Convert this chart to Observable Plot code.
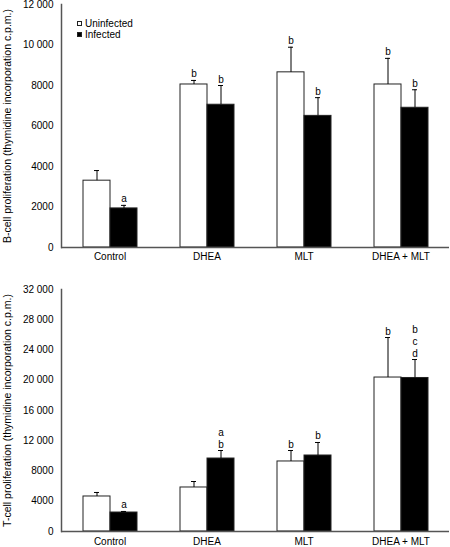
<!DOCTYPE html>
<html>
<head>
<meta charset="utf-8">
<script src="https://cdn.jsdelivr.net/npm/d3@7"></script>
<script src="https://cdn.jsdelivr.net/npm/@observablehq/plot@0.6"></script>
<style>
  body { margin: 0; background: #fff; font-family: "Liberation Sans", Arial, sans-serif; }
  #wrap { position: relative; width: 450px; }
  #wrap svg { display: block; overflow: visible; }
  .legend { position: absolute; left: 77px; top: 18px; font-size: 10px; line-height: 11px; color: #000; }
  .legend div { display: flex; align-items: center; white-space: nowrap; }
  .sw { display: inline-block; width: 5px; height: 5px; margin-right: 3px; box-sizing: border-box; border: 1px solid #222; }
</style>
</head>
<body>
<div id="wrap"></div>
<script>
const categories = ["Control", "DHEA", "MLT", "DHEA + MLT"];
const series = ["Uninfected", "Infected"];

// B-cell proliferation (c.p.m.)
const bUninfected = [3300, 8050, 8650, 8050];
const bInfected = [1930, 7050, 6500, 6900];
const bUninfectedSE = [500, 200, 1240, 1290];
const bInfectedSE = [150, 950, 900, 890];
const bUninfectedLabels = ["", "b", "b", "b"];
const bInfectedLabels = ["a", "b", "b", "b"];
const bTicks = [0, 2000, 4000, 6000, 8000, 10000, 12000];

// T-cell proliferation (c.p.m.)
const tUninfected = [4630, 5820, 9260, 20360];
const tInfected = [2510, 9650, 10050, 20300];
const tUninfectedSE = [530, 790, 1450, 5290];
const tInfectedSE = [140, 1060, 1720, 2440];
const tUninfectedLabels = ["", "", "b", "b"];
const tInfectedLabels = ["a", "a\nb", "b", "b\nc\nd"];
const tTicks = [0, 4000, 8000, 12000, 16000, 20000, 24000, 28000, 32000];

const fmt = d => d >= 10000 ? d3.format(",")(d).replace(",", " ") : String(d);

function table(means, ses, labels) {
  const rows = [];
  categories.forEach((c, i) => series.forEach((s, j) => rows.push({
    category: c, series: s, value: means[j][i], top: means[j][i] + ses[j][i], label: labels[j][i]
  })));
  return rows;
}

function panel({data, ticks, yLabel, height, marginTop, marginBottom, fxPad}) {
  return Plot.plot({
    width: 450, height, marginLeft: 60, marginRight: 0, marginTop, marginBottom,
    style: {fontFamily: '"Liberation Sans", Arial, sans-serif', fontSize: "10px", background: "white", color: "black", overflow: "visible"},
    fx: {domain: categories, padding: 0, label: null, axis: null},
    x: {domain: series, paddingInner: 0, paddingOuter: 0.77, axis: null},
    y: {domain: [ticks[0], ticks[ticks.length - 1]], axis: null},
    color: {domain: series, range: ["white", "black"]},
    marks: [
      Plot.barY(data, {fx: "category", x: "series", y: "value", fill: "series", stroke: "#222", strokeWidth: 1}),
      Plot.ruleX(data, {fx: "category", x: "series", y1: "value", y2: "top", stroke: "black", strokeWidth: 1}),
      Plot.tickY(data, {fx: "category", x: "series", y: "top", insetLeft: 11, insetRight: 11, stroke: "black", strokeWidth: 1}),
      Plot.text(data, {fx: "category", x: "series", y: "top", text: "label", lineAnchor: "bottom", dy: -3, lineHeight: 1.2, fontSize: 10}),
      Plot.ruleY([0], {stroke: "#555", strokeWidth: 1.5}),
      Plot.axisY({ticks, tickFormat: fmt, tickSize: 0, tickPadding: 8, label: null, fontSize: 10}),
      Plot.axisY({ticks: [], label: yLabel, labelAnchor: "center", labelArrow: "none", labelOffset: 58, fontSize: 10.5}),
      Plot.axisFx({anchor: "bottom", tickSize: 0, tickPadding: fxPad, label: null, fontSize: 10}),
      Plot.frame({anchor: "left", facetAnchor: "left", stroke: "#555", strokeWidth: 1.5})
    ]
  });
}

const wrap = document.getElementById("wrap");
wrap.append(panel({
  data: table([bUninfected, bInfected], [bUninfectedSE, bInfectedSE], [bUninfectedLabels, bInfectedLabels]),
  ticks: bTicks,
  yLabel: "B-cell proliferation (thymidine incorporation c.p.m.)",
  height: 270, marginTop: 4, marginBottom: 23, fxPad: 5
}));
wrap.append(panel({
  data: table([tUninfected, tInfected], [tUninfectedSE, tInfectedSE], [tUninfectedLabels, tInfectedLabels]),
  ticks: tTicks,
  yLabel: "T-cell proliferation (thymidine incorporation c.p.m.)",
  height: 277, marginTop: 19, marginBottom: 16, fxPad: 6
}));

const legend = document.createElement("div");
legend.className = "legend";
series.forEach((s, i) => {
  const row = document.createElement("div");
  const sw = document.createElement("span");
  sw.className = "sw";
  sw.style.background = i === 0 ? "white" : "black";
  row.append(sw, document.createTextNode(s));
  legend.append(row);
});
wrap.append(legend);
</script>
</body>
</html>
